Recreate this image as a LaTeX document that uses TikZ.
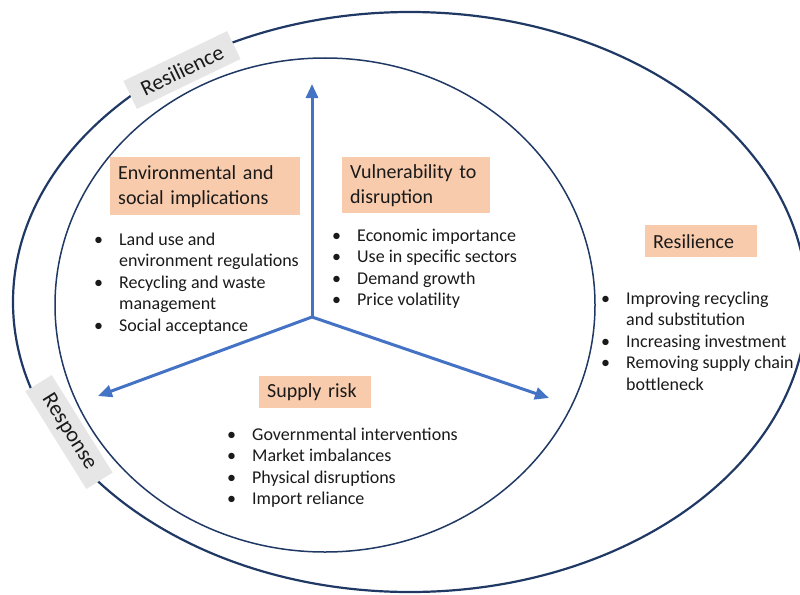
\documentclass[tikz,border=0pt]{standalone}
\usepackage{fontspec}
\setmainfont{Carlito}
\usetikzlibrary{arrows.meta}

\definecolor{ringblue}{HTML}{1F3864}
\definecolor{axisblue}{HTML}{4472C4}
\definecolor{peach}{HTML}{F8CBAD}
\definecolor{taggray}{HTML}{E7E6E6}
\definecolor{inktext}{HTML}{1A1A1A}

\tikzset{
  headbox/.style={fill=peach, anchor=north west, align=left, inner xsep=8pt, inner ysep=2pt,
    text=inktext, font=\fontsize{20}{25}\selectfont},
  bulletlist/.style={anchor=base west, inner sep=0pt, text=inktext, font=\fontsize{18}{21.5}\selectfont},
  ringtag/.style={fill=taggray, minimum width=115pt, minimum height=31pt, inner sep=2pt,
    text=inktext, font=\fontsize{22}{26}\selectfont},
  axis/.style={axisblue, line width=3pt, -{Triangle[length=14pt,width=12pt]}}
}

\begin{document}
\begin{tikzpicture}[x=1pt,y=-1pt]
    \useasboundingbox (0,0) rectangle (800,594);

    % Outer and inner rings
    \draw[ringblue, line width=2.2pt] (410,302) ellipse [x radius=397pt, y radius=290pt];
    \draw[ringblue, line width=1.5pt] (325,305) ellipse [x radius=270pt, y radius=247pt];

    % Three axes from the hub
    \coordinate (hub) at (312,317);
    \coordinate (uptip) at (312,84);
    \coordinate (lefttip) at (98,396);
    \coordinate (righttip) at (549,398);
    \draw[axis] (hub) -- (uptip);
    \draw[axis] (hub) -- (lefttip);
    \draw[axis] (hub) -- (righttip);

    % Headings
    \node[headbox, text width=174pt, minimum height=58pt] (envhead) at (110,157)
        {Environmental and\\social implications};
    \node[headbox, text width=132pt, minimum height=56pt] (vulhead) at (342,157)
        {Vulnerability to\\disruption};
    \node[headbox, text width=96pt, minimum height=32pt] (riskhead) at (259,376) {Supply risk};
    \node[headbox, text width=96pt, minimum height=32pt] (reshead) at (645,225) {Resilience};

    % Bullet lists
    \node[bulletlist] (envlist) at (94,245) {\begin{tabular}[t]{@{}p{25pt}@{}l@{}}
        \textbullet & Land use and \\
                    & environment regulations \\
        \textbullet & Recycling and waste \\
                    & management \\
        \textbullet & Social acceptance
    \end{tabular}};
    \node[bulletlist] (vullist) at (332,241) {\begin{tabular}[t]{@{}p{25pt}@{}l@{}}
        \textbullet & Economic importance \\
        \textbullet & Use in specific sectors \\
        \textbullet & Demand growth \\
        \textbullet & Price volatility
    \end{tabular}};
    \node[bulletlist] (risklist) at (227,440) {\begin{tabular}[t]{@{}p{25pt}@{}l@{}}
        \textbullet & Governmental interventions \\
        \textbullet & Market imbalances \\
        \textbullet & Physical disruptions \\
        \textbullet & Import reliance
    \end{tabular}};
    \node[bulletlist] (reslist) at (601,304) {\begin{tabular}[t]{@{}p{25pt}@{}l@{}}
        \textbullet & Improving recycling \\
                    & and substitution \\
        \textbullet & Increasing investment \\
        \textbullet & Removing supply chain \\
                    & bottleneck
    \end{tabular}};

    % Tags on the outer ring
    \node[ringtag, rotate=25.7] (resiltag) at (182,70) {Resilience};
    \node[ringtag, rotate=-58] (resptag) at (69,432) {Response};
\end{tikzpicture}
\end{document}
